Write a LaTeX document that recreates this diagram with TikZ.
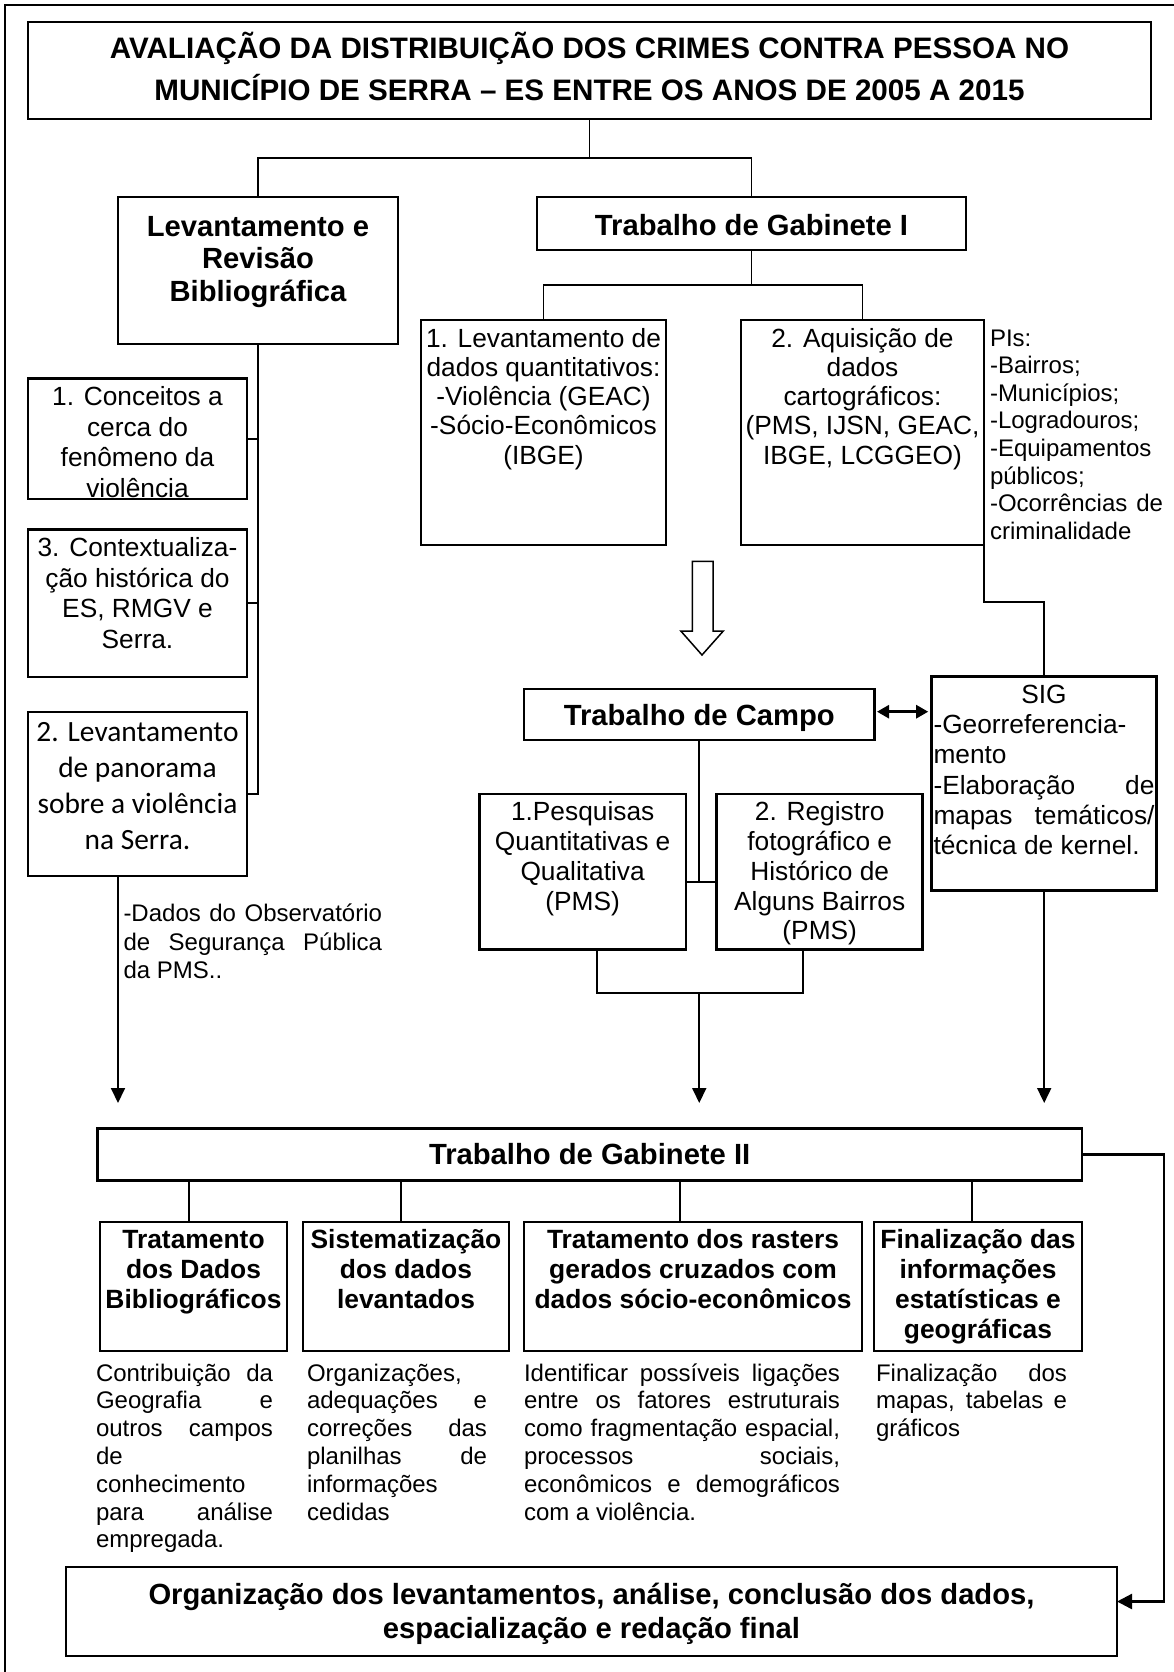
\documentclass[tikz,border=0pt]{standalone}
\usepackage{fontspec}
\setmainfont{Liberation Sans}
\newfontfamily\calibfont{Carlito}
\usetikzlibrary{arrows.meta,calc}
\hbadness=10000
\newcommand\ctext[3]{\parbox[t]{#2}{\lineskiplimit=-100pt\baselineskip=#1\relax\centering #3}}
\newcommand\jtext[3]{\parbox[t]{#2}{\lineskiplimit=-100pt\baselineskip=#1\relax #3}}
\newcommand\jl[1]{\makebox[\linewidth][s]{#1}}
\tikzset{
  box/.style={draw, line width=2.6pt, rectangle, inner sep=0pt, outer sep=0pt},
  txt/.style={inner sep=0pt, outer sep=0pt, anchor=base},
  ltxt/.style={inner sep=0pt, outer sep=0pt, anchor=base west},
  con/.style={line width=1.8pt},
  arr/.style={line width=1.8pt, -{Triangle[length=15pt,width=14pt]}},
  titlef/.style={font=\bfseries\fontsize{29.6}{34}\selectfont},
  bigb/.style={font=\bfseries\fontsize{29.2}{34}\selectfont},
  smb/.style={font=\bfseries\fontsize{26.4}{30}\selectfont},
  body/.style={font=\fontsize{26.3}{29.5}\selectfont},
  cbody/.style={font=\calibfont\fontsize{29.4}{36}\selectfont},
  note/.style={font=\fontsize{24}{27.8}\selectfont},
}
\begin{document}
\begin{tikzpicture}[x=1pt,y=-1pt]
\useasboundingbox (0,0) rectangle (1174,1672);
% outer frame (partly cropped)
\draw[line width=2.6pt] (5,1672) -- (5,5) -- (1174,5);

% boxes
\node[box, minimum width=1123pt, minimum height=97pt] (title) at (589.5,70.5) {};
\node[box, minimum width=280pt, minimum height=147pt] (lr) at (258,270.5) {};
\node[box, minimum width=429pt, minimum height=53pt] (gab1) at (751.5,223.5) {};
\node[box, minimum width=245pt, minimum height=225pt] (q) at (543.5,432.5) {};
\node[box, minimum width=243pt, minimum height=225pt] (aq) at (862.5,432.5) {};
\node[box, minimum width=219pt, minimum height=120.5pt] (c1) at (137.5,438.75) {};
\node[box, minimum width=219pt, minimum height=147.4pt] (c3) at (137.5,603.3) {};
\node[box, minimum width=219pt, minimum height=164pt] (c2) at (137.5,794) {};
\node[box, minimum width=350.5pt, minimum height=51pt] (campo) at (699.25,714.5) {};
\node[box, minimum width=225pt, minimum height=214pt] (sig) at (1044.2,783.7) {};
\node[box, minimum width=206.7pt, minimum height=155.3pt] (p1) at (582.65,871.65) {};
\node[box, minimum width=206pt, minimum height=155.3pt] (p2) at (819.7,871.65) {};
\node[box, minimum width=984.7pt, minimum height=52.4pt] (gab2) at (589.65,1154.5) {};
\node[box, minimum width=187pt, minimum height=129pt] (b1) at (193.5,1286.5) {};
\node[box, minimum width=206pt, minimum height=129pt] (b2) at (406,1286.5) {};
\node[box, minimum width=338pt, minimum height=129pt] (b3) at (693,1286.5) {};
\node[box, minimum width=208pt, minimum height=129pt] (b4) at (978,1286.5) {};
\node[box, minimum width=1051pt, minimum height=89pt] (final) at (591.5,1611.5) {};

% texts in boxes
\node[txt,titlef] (titletext) at (589.5,59) {\ctext{41.7pt}{1110pt}{AVALIAÇÃO DA DISTRIBUIÇÃO DOS CRIMES CONTRA PESSOA NO\\ MUNICÍPIO DE SERRA – ES ENTRE OS ANOS DE 2005 A 2015}};
\node[txt,bigb] (lrtext) at (258,236) {\ctext{32.5pt}{270pt}{Levantamento e\\ Revisão\\ Bibliográfica}};
\node[txt,bigb] (gab1text) at (751.5,235) {Trabalho de Gabinete I};
\node[txt,body] (qtext) at (543.5,347) {\ctext{29.3pt}{250pt}{1. Levantamento de\\ dados quantitativos:\\ -Violência (GEAC)\\ -Sócio-Econômicos\\ (IBGE)}};
\node[txt,body] (aqtext) at (862.5,347) {\ctext{29.3pt}{250pt}{2. Aquisição de\\ dados\\ cartográficos:\\ (PMS, IJSN, GEAC,\\ IBGE, LCGGEO)}};
\node[txt,body] (c1text) at (137.5,405.5) {\ctext{30.6pt}{215pt}{1. Conceitos a\\ cerca do\\ fenômeno da\\ violência}};
\node[txt,body] (c3text) at (137.5,556.4) {\ctext{30.6pt}{215pt}{3. Contextualiza-\\ ção histórica do\\ ES, RMGV e\\ Serra.}};
\node[txt,cbody] (c2text) at (137.5,741) {\ctext{36pt}{215pt}{2. Levantamento\\ de panorama\\ sobre a violência\\ na Serra.}};
\node[txt,bigb] (campotext) at (699.25,725) {Trabalho de Campo};
\node[ltxt,body] (sigtext) at (933.5,703.3) {\jtext{30.3pt}{221pt}{{\centering SIG\par}-Georreferencia-\\ mento\par \jl{-Elaboração de}\\ \jl{mapas temáticos/}\\ técnica de kernel.}};
\node[txt,body] (p1text) at (582.65,820.7) {\ctext{29.8pt}{204pt}{1.Pesquisas\\ Quantitativas e\\ Qualitativa\\ (PMS)}};
\node[txt,body] (p2text) at (819.7,820.7) {\ctext{29.8pt}{204pt}{2. Registro\\ fotográfico e\\ Histórico de\\ Alguns Bairros\\ (PMS)}};
\node[txt,bigb] (gab2text) at (589.65,1164.5) {Trabalho de Gabinete II};
\node[txt,smb] (b1text) at (193.5,1248) {\ctext{30pt}{185pt}{Tratamento\\ dos Dados\\ Bibliográficos}};
\node[txt,smb] (b2text) at (406,1248) {\ctext{30pt}{204pt}{Sistematização\\ dos dados\\ levantados}};
\node[txt,smb] (b3text) at (693,1248) {\ctext{30pt}{336pt}{Tratamento dos rasters\\ gerados cruzados com\\ dados sócio-econômicos}};
\node[txt,smb] (b4text) at (978,1248) {\ctext{30pt}{206pt}{Finalização das\\ informações\\ estatísticas e\\ geográficas}};
\node[txt,bigb] (finaltext) at (591.5,1604) {\ctext{34pt}{1040pt}{Organização dos levantamentos, análise, conclusão dos dados,\\ espacialização e redação final}};

% side notes
\node[ltxt,note] (pis) at (990,346) {\jtext{27.6pt}{173pt}{PIs:\\ -Bairros;\\ -Municípios;\\ -Logradouros;\\ -Equipamentos\\ públicos;\\ \jl{-Ocorrências de}\\ criminalidade}};
\node[ltxt,note] (obs) at (123.5,921.7) {\jtext{28.3pt}{258.5pt}{\jl{-Dados do Observatório}\\ \jl{de Segurança Pública}\\ da PMS..}};
\node[ltxt,note] (d1) at (96,1381) {\jtext{27.8pt}{177pt}{\jl{Contribuição da}\\ \jl{Geografia e}\\ \jl{outros campos}\\ de\\ conhecimento\\ \jl{para análise}\\ empregada.}};
\node[ltxt,note] (d2) at (307,1381) {\jtext{27.8pt}{180pt}{Organizações,\\ \jl{adequações e}\\ \jl{correções das}\\ \jl{planilhas de}\\ informações\\ cedidas}};
\node[ltxt,note] (d3) at (524,1381) {\jtext{27.8pt}{316pt}{\jl{Identificar possíveis ligações}\\ \jl{entre os fatores estruturais}\\ \jl{como fragmentação espacial,}\\ \jl{processos sociais,}\\ \jl{econômicos e demográficos}\\ com a violência.}};
\node[ltxt,note] (d4) at (876,1381) {\jtext{27.8pt}{191pt}{\jl{Finalização dos}\\ \jl{mapas, tabelas e}\\ gráficos}};

% connectors
\coordinate (j1) at (589.5,157.7);
\draw[con] (title.south) -- (j1);
\draw[con] (lr.north) |- (j1) -| (gab1.north);
\coordinate (j2) at (751.5,285);
\draw[con] (gab1.south) -- (j2);
\draw[con] (q.north) |- (j2) -| (aq.north);

\draw[con] (lr.south) |- (c2.east);
\draw[con] (c1.east) -- (c1.east -| lr.south);
\draw[con] (c3.east) -- (c3.east -| lr.south);

\coordinate (a1) at (118,1103);
\draw[arr] (a1 |- c2.south) -- (a1);

\draw[con] (aq.south east) -- ++(0,57) -| (sig.north);

% hollow arrow
\draw[line width=1.5pt, line join=miter] (692.4,561.4) -- (713.2,561.4) -- (713.2,631) -- (723.3,631) -- (702,655) -- (680.8,631) -- (692.4,631) -- cycle;

\draw[line width=2.6pt, {Triangle[length=12pt,width=13pt]}-{Triangle[length=12pt,width=13pt]}, shorten <=2.5pt, shorten >=3.5pt] ([yshift=2.8pt]campo.east) -- ([yshift=2.8pt]campo.east -| sig.west);

\coordinate (j3) at (699.25,882);
\draw[con] (campo.south) -- (j3);
\draw[con] (j3 -| p1.east) -- (j3 -| p2.west);

\coordinate (k1) at (597.3,992.7);
\coordinate (k2) at (803.3,992.7);
\draw[con] (k1 |- p1.south) -- (k1) -- (k2) -- (k2 |- p2.south);
\coordinate (a2) at (699.25,1103);
\draw[arr] (a2 |- k1) -- (a2);
\coordinate (a3) at (1044.2,1103);
\draw[arr] (sig.south) -- (a3);

\coordinate (d1t) at ($(b1.north)+(-4.5,0)$);
\coordinate (d2t) at ($(b2.north)+(-5.4,0)$);
\coordinate (d3t) at ($(b3.north)+(-13,0)$);
\coordinate (d4t) at ($(b4.north)+(-6,0)$);
\draw[con] (d1t) -- (d1t |- gab2.south);
\draw[con] (d2t) -- (d2t |- gab2.south);
\draw[con] (d3t) -- (d3t |- gab2.south);
\draw[con] (d4t) -- (d4t |- gab2.south);

\coordinate (r1) at (1164,1154.5);
\draw[line width=2.4pt, -{Triangle[length=15pt,width=15pt]}] (gab2.east) -- (r1) |- ($(final.east)+(0,-10)$);
\end{tikzpicture}
\end{document}
